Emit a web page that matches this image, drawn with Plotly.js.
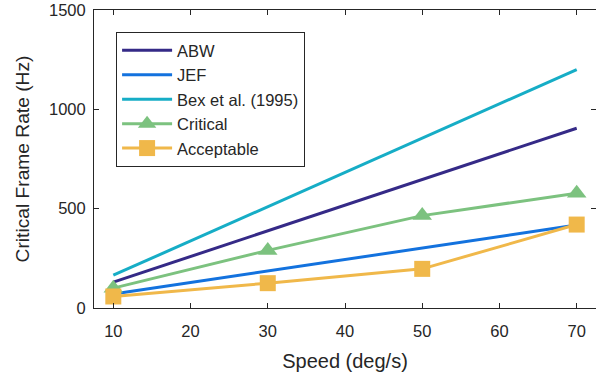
<!DOCTYPE html>
<html>
<head>
<meta charset="utf-8">
<script src="https://cdn.plot.ly/plotly-3.0.1.min.js"></script>
<style>html,body{margin:0;padding:0;background:#fff;}#chart{width:596px;height:372px;}</style>
</head>
<body>
<div id="chart"></div>
<script>
const speeds = [10, 30, 50, 70];
const abw = [130, 388, 647, 905];
const jef = [70, 185, 300, 418];
const bex = [165, 510, 855, 1200];
const critical = [100, 290, 465, 578];
const acceptable = [58, 125, 197, 420];

const colors = {
  abw: '#352a87',
  jef: '#1372de',
  bex: '#16adc6',
  critical: '#7cc27f',
  acceptable: '#f0b84a'
};

const font = {family: 'Liberation Sans, Arial, Helvetica, sans-serif', color: '#262626'};

const traces = [
  {x: speeds, y: abw, name: 'ABW', mode: 'lines', line: {color: colors.abw, width: 3}},
  {x: speeds, y: jef, name: 'JEF', mode: 'lines', line: {color: colors.jef, width: 3}},
  {x: speeds, y: bex, name: 'Bex et al. (1995)', mode: 'lines', line: {color: colors.bex, width: 3}},
  {x: speeds, y: critical, name: 'Critical', mode: 'lines+markers', line: {color: colors.critical, width: 3},
   marker: {symbol: 'triangle-up', size: 17, color: colors.critical}},
  {x: speeds, y: acceptable, name: 'Acceptable', mode: 'lines+markers', line: {color: colors.acceptable, width: 3},
   marker: {symbol: 'square', size: 16, color: colors.acceptable}}
];

const layout = {
  width: 596, height: 372,
  margin: {l: 94, r: 0, t: 10, b: 64},
  paper_bgcolor: '#fff', plot_bgcolor: '#fff',
  font: Object.assign({size: 16}, font),
  showlegend: true,
  legend: {
    x: 0.044, y: 0.926, xanchor: 'left', yanchor: 'top',
    bgcolor: '#fff', bordercolor: '#262626', borderwidth: 1,
    font: Object.assign({size: 16.5}, font),
    tracegroupgap: 0, itemwidth: 50,
    entrywidth: 203, entrywidthmode: 'pixels'
  },
  xaxis: {
    range: [7.5, 72.5], tickvals: [10, 20, 30, 40, 50, 60, 70],
    ticks: 'inside', ticklen: 5, tickcolor: '#262626', tickwidth: 1,
    showline: true, linecolor: '#262626', linewidth: 1, mirror: 'ticks',
    showgrid: false, zeroline: false, ticklabelstandoff: 8,
    tickfont: Object.assign({size: 16.5}, font),
    title: {text: 'Speed (deg/s)', font: Object.assign({size: 20}, font), standoff: 16}
  },
  yaxis: {
    range: [0, 1500], tickvals: [0, 500, 1000, 1500],
    ticks: 'inside', ticklen: 5, tickcolor: '#262626', tickwidth: 1,
    showline: true, linecolor: '#262626', linewidth: 1, mirror: 'ticks',
    showgrid: false, zeroline: false, ticklabelstandoff: 4,
    tickfont: Object.assign({size: 16.5}, font),
    title: {text: 'Critical Frame Rate (Hz)', font: Object.assign({size: 19.2}, font), standoff: 14}
  }
};

Plotly.newPlot('chart', traces, layout, {displayModeBar: false, staticPlot: true});
</script>
</body>
</html>
